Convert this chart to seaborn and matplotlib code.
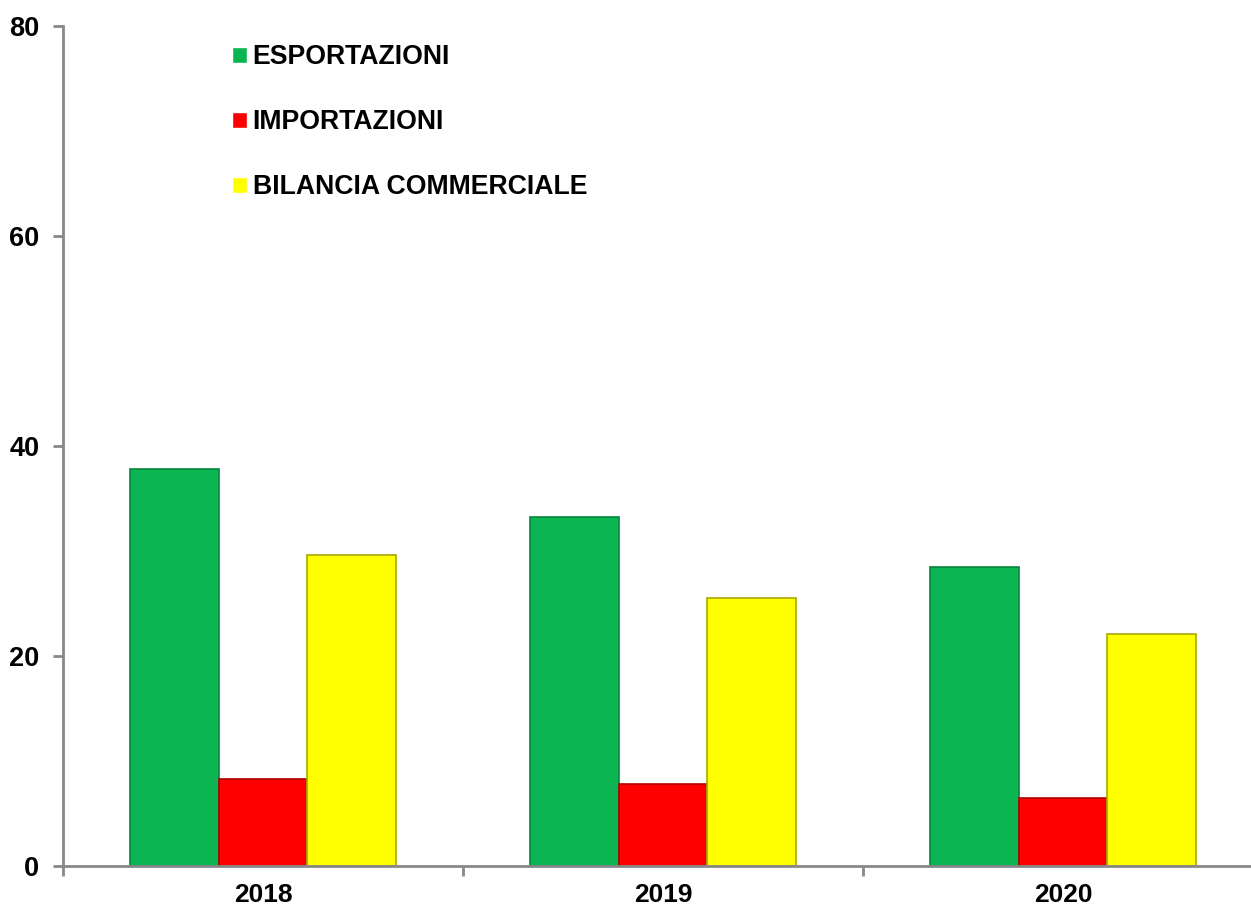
import pandas as pd
import matplotlib.pyplot as plt
import seaborn as sns

# Values
years = ['2018', '2019', '2020']
esportazioni = [37.8, 33.2, 28.5]
importazioni = [8.3, 7.8, 6.5]
bilancia = [29.6, 25.5, 22.1]

series_names = ['ESPORTAZIONI', 'IMPORTAZIONI', 'BILANCIA COMMERCIALE']
colors = ['#0bb552', '#fe0000', '#ffff00']
edge_colors = ['#07863c', '#b00000', '#a8a800']

df = pd.DataFrame({
    'anno': years * 3,
    'valore': esportazioni + importazioni + bilancia,
    'serie': [s for s in series_names for _ in years],
})

sns.set_style('white')
plt.rcParams['font.family'] = ['Liberation Sans', 'DejaVu Sans']
plt.rcParams['font.weight'] = 'bold'
plt.rcParams['text.color'] = 'black'

fig = plt.figure(figsize=(12.51, 9.08), dpi=100)
ax = fig.add_axes([63 / 1251, 42 / 908, 1200 / 1251, 840 / 908])

sns.barplot(data=df, x='anno', y='valore', hue='serie', hue_order=series_names,
            palette=colors, width=0.667, saturation=1, ax=ax, legend=True)

for container, ec in zip(ax.containers, edge_colors):
    for patch in container:
        patch.set_edgecolor(ec)
        patch.set_linewidth(1.2)

ax.set_xlim(-0.5, 2.5)
ax.set_ylim(0, 80)
ax.set_yticks([0, 20, 40, 60, 80])
ax.set_xlabel('')
ax.set_ylabel('')

# spines and ticks
for side in ['top', 'right']:
    ax.spines[side].set_visible(False)
for side in ['left', 'bottom']:
    ax.spines[side].set_color('#888888')
    ax.spines[side].set_linewidth(2)

ax.tick_params(axis='y', which='major', length=7, width=2, color='#888888',
               labelsize=19.5, pad=10, left=True, labelcolor='black')
ax.set_xticks([-0.5, 0.5, 1.5, 2.5], minor=True)
ax.tick_params(axis='x', which='minor', length=7, width=2, color='#888888',
               direction='out', bottom=True)
ax.tick_params(axis='x', which='major', length=0, labelsize=19, pad=12,
               labelcolor='black')
for lab in ax.get_xticklabels() + ax.get_yticklabels():
    lab.set_fontweight('bold')

handles, labels = ax.get_legend_handles_labels()
leg = ax.legend(handles, labels, loc='upper left',
                bbox_to_anchor=(232 / 1251, 1 - 44 / 908), bbox_transform=fig.transFigure,
                frameon=False, prop={'weight': 'bold', 'size': 19.2},
                handlelength=0.55, handleheight=0.55, handletextpad=0.22,
                labelspacing=1.47, borderpad=0, borderaxespad=0)
for t in leg.get_texts():
    t.set_color('black')

fig.savefig('out.png', dpi=100)
